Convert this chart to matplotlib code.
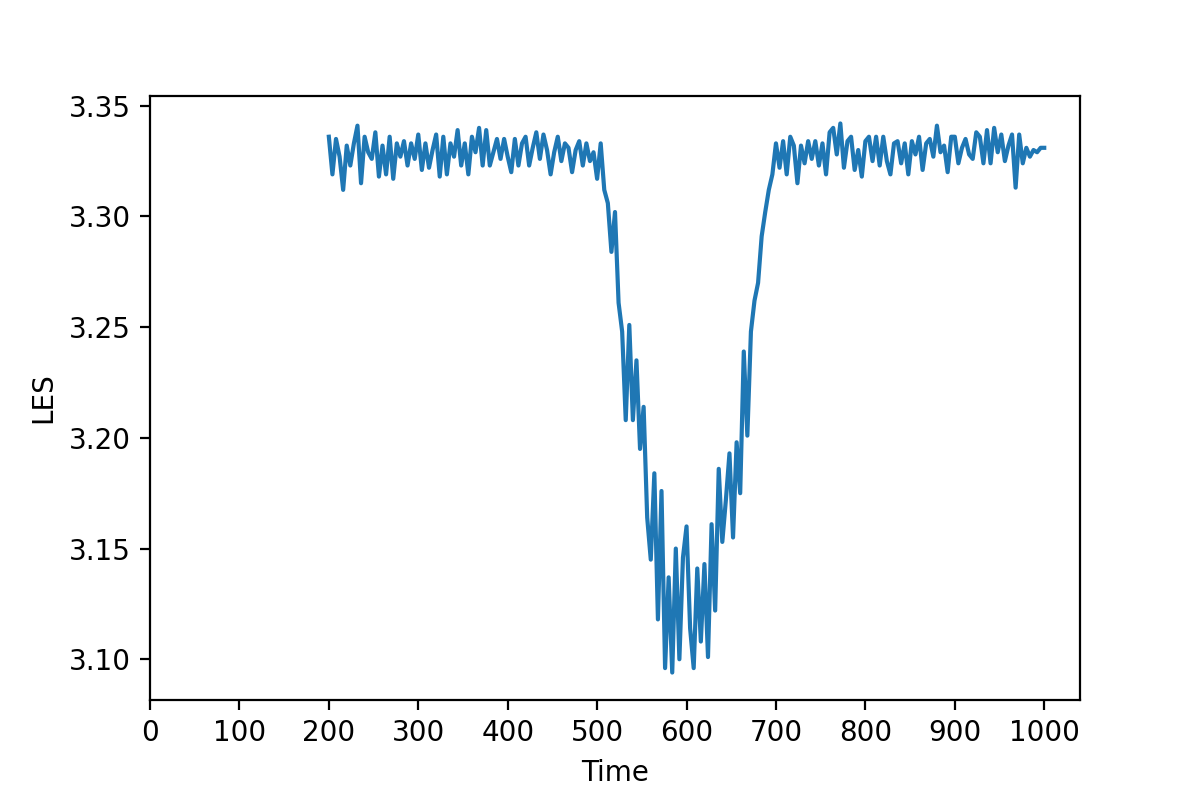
import numpy as np
import matplotlib

matplotlib.use("Agg")
import matplotlib.pyplot as plt

# time grid (every 4 steps)
time = np.arange(200, 1001, 4)
les = [
    3.336, 3.319, 3.335, 3.327, 3.312, 3.332, 3.323, 3.333, 3.341, 3.315,
    3.336, 3.329, 3.326, 3.338, 3.318, 3.332, 3.319, 3.336, 3.317, 3.333,
    3.327, 3.334, 3.323, 3.333, 3.326, 3.337, 3.321, 3.333, 3.322, 3.330,
    3.337, 3.318, 3.336, 3.319, 3.333, 3.327, 3.339, 3.323, 3.333, 3.319,
    3.336, 3.329, 3.340, 3.323, 3.339, 3.323, 3.329, 3.335, 3.326, 3.335,
    3.327, 3.320, 3.335, 3.323, 3.333, 3.336, 3.323, 3.331, 3.338, 3.326,
    3.337, 3.330, 3.319, 3.329, 3.336, 3.325, 3.333, 3.331, 3.320, 3.330,
    3.334, 3.323, 3.333, 3.325, 3.329, 3.317, 3.333, 3.312, 3.306, 3.284,
    3.302, 3.261, 3.248, 3.208, 3.251, 3.208, 3.235, 3.195, 3.214, 3.164,
    3.145, 3.184, 3.118, 3.176, 3.096, 3.137, 3.094, 3.150, 3.100, 3.146,
    3.160, 3.114, 3.096, 3.141, 3.108, 3.143, 3.101, 3.161, 3.122, 3.186,
    3.153, 3.172, 3.193, 3.155, 3.198, 3.175, 3.239, 3.201, 3.248, 3.262,
    3.270, 3.291, 3.302, 3.312, 3.319, 3.333, 3.322, 3.334, 3.319, 3.336,
    3.332, 3.315, 3.332, 3.324, 3.334, 3.326, 3.334, 3.323, 3.333, 3.319,
    3.338, 3.340, 3.328, 3.342, 3.322, 3.334, 3.336, 3.321, 3.330, 3.318,
    3.334, 3.336, 3.325, 3.336, 3.323, 3.336, 3.325, 3.319, 3.333, 3.334,
    3.324, 3.333, 3.319, 3.334, 3.328, 3.336, 3.321, 3.333, 3.335, 3.327,
    3.341, 3.329, 3.332, 3.320, 3.336, 3.336, 3.324, 3.331, 3.335, 3.328,
    3.326, 3.338, 3.336, 3.324, 3.339, 3.324, 3.340, 3.329, 3.337, 3.325,
    3.332, 3.337, 3.313, 3.337, 3.324, 3.331, 3.327, 3.330, 3.329, 3.331,
    3.331,
]
xticks = list(range(0, 1001, 100))

fig, ax = plt.subplots(figsize=(6, 4), dpi=200)
fig.subplots_adjust(left=0.125, right=0.9, top=0.88, bottom=0.125)
ax.plot(time, les, color="#1f77b4")
ax.set_xlim(left=0)
ax.set_xticks(xticks)
ax.set_xlabel("Time")
ax.set_ylabel("LES")
fig.savefig("out.png")
plt.close(fig)
